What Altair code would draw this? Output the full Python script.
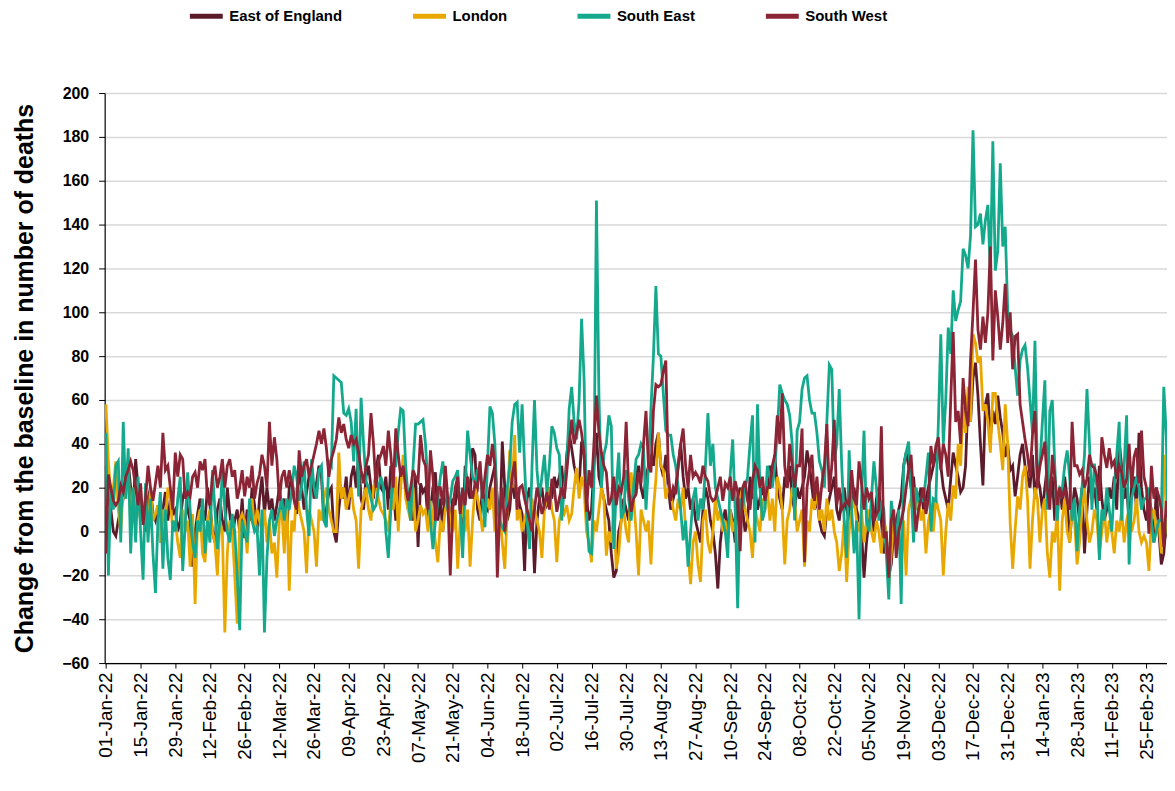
import json
import altair as alt
import pandas as pd

SERIES = ["East of England", "London", "South East", "South West"]
COLORS = ["#5c1b2a", "#e9a800", "#14a98c", "#8b2434"]

TICK_LABELS = ["01-Jan-22", "15-Jan-22", "29-Jan-22", "12-Feb-22", "26-Feb-22", "12-Mar-22",
               "26-Mar-22", "09-Apr-22", "23-Apr-22", "07-May-22", "21-May-22", "04-Jun-22",
               "18-Jun-22", "02-Jul-22", "16-Jul-22", "30-Jul-22", "13-Aug-22", "27-Aug-22",
               "10-Sep-22", "24-Sep-22", "08-Oct-22", "22-Oct-22", "05-Nov-22", "19-Nov-22",
               "03-Dec-22", "17-Dec-22", "31-Dec-22", "14-Jan-23", "28-Jan-23", "11-Feb-23",
               "25-Feb-23"]
TICK_POS = [14 * i for i in range(len(TICK_LABELS))]

# daily values, one row per fortnight starting 01-Jan-22
EAST_OF_ENGLAND = [
    30, 15, 10, 0, -2, 5, 10, 15, 25, 32, 20, 10, 33, 20,
    5, 10, 0, 15, 20, 8, 5, 12, -5, 10, 18, 5, 15, 8,
    10, 0, 5, 15, 20, 10, 5, -16, 0, 8, 15, 10, 5, 20,
    12, 0, -5, 10, 15, 5, 0, 20, 8, -2, 5, 10, 0, 15,
    -3, 10, 5, 20, 12, 0, 15, 25, 8, 20, 10, 15, 5, 12,
    20, 10, 15, 0, 20, 25, 15, 8, 30, 20, 10, 18, 25, 30,
    15, 22, 30, 25, 5, 10, 18, 20, 0, -5, 10, 20, 15, 25,
    10, 25, 30, 20, 35, 15, 10, 25, 30, 20, 15, 28, 35, 20,
    18, 25, 10, 30, 20, 5, 15, 28, 30, 25, 10, 20, 5, 25,
    -7, 22, 18, 20, 5, 10, 20, 27, 5, 15, 0, 20, 10, 5,
    15, 12, 22, 10, -2, 30, 20, 15, 38, 35, 10, 5, 20, 12,
    10, 20, 25, 30, 15, 0, 41, 20, 5, 10, 25, 15, 20, 12,
    8, -18, 15, 20, 10, -19, 5, 15, 20, 10, 12, 20, 15, 25,
    20, 25, 30, 15, 35, 45, 38, 30, 25, 20, 41, 35, 15, 5,
    10, 30, 45, 25, 20, 15, 10, 5, -10, -21, -18, 0, 5, 15,
    10, 5, 20, 15, 25, 30, 20, 15, 25, 30, 35, 30, 40, 45,
    30, 25, 35, 20, 10, 15, 20, 30, 40, 25, 15, 20, 10, 15,
    5, 0, -5, 10, 20, 15, 5, 0, -10, -26, -5, 5, 10, 0,
    10, 5, -5, 15, 20, 10, 0, 5, 25, 15, 20, 10, 15, 20,
    15, 20, 30, 25, 35, 20, 15, 10, 25, 20, 30, 15, 10, 20,
    15, 20, 25, 37, 30, 20, 10, 15, 5, 0, -2, 10, 15, 20,
    25, 10, 5, 15, 20, 10, 5, 15, 20, 10, 5, 0, -21, -5,
    5, 10, 0, 15, 20, 5, -10, -5, -20, -15, 0, 5, 10, 15,
    30, 36, 30, 20, 25, 10, 15, 20, 10, 15, 20, 25, 30, 35,
    40, 30, 20, 15, 10, 24, 36, 30, 25, 18, 20, 30, 62, 50,
    70, 77, 62, 40, 21, 58, 63, 43, 55, 49, 62, 52, 45, 34,
    40, 28, 30, 16, 25, 35, 40, 30, 25, 20, 35, 15, 25, 20,
    10, 20, 30, 15, 25, 5, 15, 20, 10, 25, 15, -5, 10, 20,
    15, 5, 20, -10, 10, 25, 15, 20, 10, 30, 15, 5, 10, 20,
    15, 25, 10, 41, 30, 15, 20, 5, 20, 25, 10, 45, 20, 10,
    5, 15, 10, -5, 20, 0, -15, -10, 5, -5,
]

LONDON = [
    58, 32, 15, 20, 32, 10, 0, 20, 15, 28, 5, 20, 10, 15,
    5, 10, 15, 0, 20, 5, 8, 12, -5, 10, 5, 20, 15, 0,
    5, -5, -12, 10, 0, 5, -16, 8, -33, 5, 10, -10, -14, 5,
    10, 0, -5, -20, 5, 0, -46, -10, 5, 0, -20, -42, 5, 8,
    5, -10, 10, 15, 0, 10, 5, 0, 10, -5, 5, -10, -5, -21,
    5, 10, -10, 15, -27, 5, 0, 20, 10, 5, 0, -19, 10, 5,
    0, -16, 10, 5, 15, 20, 10, 5, 0, 0, 36, 15, 20, 10,
    15, 20, 10, 5, -17, 10, 15, 20, 10, 5, 20, 25, 15, 10,
    8, 5, 0, 15, 10, 25, 0, 20, 35, 15, 10, 5, 20, 0,
    5, 12, 8, 10, 0, 14, 5, -5, -14, 5, 0, 10, 15, 5,
    0, 10, -17, 5, 12, 0, 10, -16, 5, 20, 15, 10, 0, 8,
    15, 10, 20, 0, 5, 10, -5, -17, 10, 37, 20, 44, 5, 10,
    0, 5, 10, -5, 15, 10, 5, 0, -12, 10, 15, 20, 10, 5,
    -14, 5, 10, 8, 12, 5, 8, 20, 29, 15, 25, 20, 0, -5,
    -14, 5, 0, 10, 20, 15, -11, 0, -5, 10, -17, -10, 5, 10,
    0, -5, 27, 15, 0, -20, 10, 5, 0, 5, -15, 10, 24, 45,
    30, 28, 15, 20, 18, 10, 5, 15, 10, 20, 0, -10, -24, -5,
    0, -15, -23, 5, 10, -5, -10, 0, 15, 5, 10, 0, 5, -5,
    10, 0, 5, -10, 15, 20, 10, 5, 0, -12, 10, 5, 0, 15,
    10, 20, 5, 15, 0, 25, 20, 10, -15, 5, 10, 20, 15, 0,
    5, 10, -16, 5, 0, 15, 10, 20, 5, 10, 0, 15, 5, 10,
    0, -5, -18, -10, 5, -23, 0, 10, 15, 5, 0, 10, -5, 5,
    10, 0, -5, 5, 0, -10, 5, 0, -25, -10, 5, -5, 0, -15,
    5, -20, 10, 15, 20, 10, 15, 5, 10, -10, 5, 10, 0, 15,
    10, 5, -20, 0, 13, 5, 21, 15, 40, 30, 57, 45, 66, 50,
    90, 86, 77, 80, 55, 58, 50, 36, 63, 63, 50, 40, 28, 58,
    40, 4, -17, 1, 16, 10, 25, 30, 15, -17, 5, 20, 15, -5,
    10, 15, -10, -21, 0, -5, 10, -27, 5, 15, 0, -5, 10, 5,
    -15, -5, 10, 20, 5, -5, 0, 10, 5, -10, 0, 10, -5, 5,
    0, -10, 5, 0, 10, -5, 5, 10, 0, 5, 15, 0, -5, -2,
    -5, -18, 5, 10, 0, 5, -10, 35, 10, -5,
]

SOUTH_EAST = [
    45, -20, 20, 10, 30, 32, -5, 50, 15, 38, -10, 20, -5, 25,
    0, -22, 22, -5, 15, -10, -28, 5, 18, -17, 10, -12, -22, 5,
    0, 15, 25, -18, 3, 27, 10, -5, -12, 5, 0, 15, -10, 5,
    -5, 28, 10, -8, 5, 28, 10, 0, -5, 8, 0, -20, -45, 5,
    0, -5, 15, 5, 0, 2, -20, 10, -46, -12, 5, 10, -2, 5,
    10, 15, 5, 15, 10, 18, 30, 25, 14, 20, 32, 10, -2, 33,
    20, 15, 28, 30, 5, 2, 32, 30, 71, 70, 69, 68, 54, 53,
    56, 50, 32, 56, 16, 61, 40, 23, 20, 15, 10, 12, 20, 25,
    20, 0, -12, 10, 30, 30, 45, 56, 55, 30, 15, 5, 30, 49,
    49, 50, 51, 40, 20, 5, -8, 5, 14, 25, 32, 20, 10, 15,
    23, 25, 28, 10, -12, 20, 46, 35, 25, 22, 28, 30, 15, 2,
    30, 57, 54, 40, 10, 5, 2, 0, 20, 30, 50, 58, 59, 36,
    58, 30, 5, -8, 30, 60, 28, 15, 25, 35, 18, 30, 48, 45,
    38, 35, 5, 20, 30, 56, 66, 50, 42, 60, 97, 70, 9, -9,
    -10, 24, 151, 62, 20, 35, 40, 53, 48, -8, 20, 36, 6, 9,
    28, 15, 5, 20, 33, 35, 40, 38, 10, 30, 56, 80, 112, 81,
    80, 63, 46, 44, 44, 35, 30, 20, 10, -4, 5, -16, 0, 15,
    20, 5, 15, 10, 30, 54, 30, 40, 20, 15, 10, 5, 0, -12,
    26, 42, 10, -35, 15, 10, 20, 25, 40, 53, -5, 58, 20, 5,
    10, 30, 25, 20, 30, 45, 67, 63, 60, 58, 53, 40, 5, 46,
    50, 65, 70, 71, 60, 54, 54, 45, 32, 28, 20, 50, 76, 74,
    32, 40, 65, 30, 5, -12, 37, 10, -10, 5, -40, 15, 46, 5,
    0, 15, 32, 20, 5, 14, 10, -10, -31, 14, 5, -5, 10, -33,
    30, 36, 41, 20, -5, 20, 14, 15, 14, 25, 36, 0, 15, 14,
    49, 90, 40, 60, 93, 81, 110, 96, 101, 105, 129, 126, 120, 135,
    183, 139, 140, 145, 131, 142, 149, 118, 178, 119, 128, 168, 130, 139,
    101, 92, 89, 75, 62, 78, 83, 85, 75, 60, 45, 87, 25, 30,
    50, 69, 10, 55, 60, 30, 5, 20, 19, 30, 37, 25, 5, 15,
    -9, 10, 20, 35, 65, 40, 10, 31, 20, -13, 10, 5, 20, 10,
    0, 20, 35, 50, 5, 30, 53, -15, 15, 20, 25, 20, 10, 15,
    15, 20, 5, -5, 0, 5, 5, 66, 44, -12,
]

SOUTH_WEST = [
    -10, 26, 20, 14, 12, 14, 21, 18, 25, 28, 32, 28, 20, 12,
    22, 3, 15, 30, 20, 14, 22, 30, 20, 45, 28, 30, 20, 10,
    36, 25, 35, 33, 15, 18, 16, 25, 27, 20, 32, 28, 33, 15,
    12, 25, 30, 20, 25, 33, 20, 30, 33, 25, 28, 15, 20, 28,
    16, 25, 20, 30, 15, 22, 26, 35, 30, 20, 50, 30, 43, 33,
    14, 25, 28, 20, 28, 22, 14, 10, 37, 25, 30, 33, 25, 30,
    35, 40, 46, 40, 47, 38, 25, 33, 37, 42, 52, 45, 49, 42,
    38, 44, 40, 42, 36, 28, 22, 30, 35, 54, 40, 20, 32, 35,
    39, 30, 46, 35, 20, 47, 35, 25, 30, 20, 14, 20, 28, 25,
    23, 44, 33, 30, 10, 37, 25, 5, 20, 20, 12, 30, 15, -20,
    10, 20, 25, 8, 20, 12, 25, 20, 15, 22, 20, 32, 15, 25,
    35, 30, 40, 30, -21, 10, 20, 0, 10, 14, 25, 32, 10, 20,
    21, 15, 10, 5, 0, 10, 20, 15, 8, 12, 18, 10, 24, 20,
    9, 15, 20, 15, 27, 40, 51, 40, 45, 51, 45, 35, 9, 28,
    20, 40, 62, 45, 36, 30, 27, 12, 15, 25, 12, 20, 18, 25,
    50, 20, 9, 15, 17, 27, 22, 40, 55, 30, 27, 55, 67, 66,
    67, 73, 78, 27, 14, 20, 17, 30, 40, 47, 30, 20, 35, 25,
    27, 25, 22, 30, 25, 23, 16, 14, 15, 20, 25, 14, 22, 20,
    25, 14, 23, 18, -9, 20, 23, 14, 10, 23, 30, 28, 20, 25,
    14, 20, 20, 30, 35, 53, 40, 63, 30, 20, 40, 30, 20, 30,
    30, 47, -14, 20, 28, 35, 14, 25, 10, 22, 30, 49, 18, 30,
    51, 12, 20, 10, 12, 14, 12, 28, 15, 12, 32, 22, 10, 20,
    15, 18, 5, 8, 10, 48, -3, 0, -21, 5, 10, -12, 0, 5,
    10, 20, 28, 35, 15, 0, 10, 15, 20, 8, 15, 39, 30, 39,
    43, 28, 40, 35, 25, 60, 91, 50, 55, 40, 70, 55, 48, 78,
    100, 124, 92, 83, 98, 86, 100, 130, 78, 110, 98, 83, 95, 113,
    86, 100, 74, 89, 90, 58, 50, 42, 35, 25, 44, 55, 20, 30,
    35, 41, 20, 10, 35, 25, 12, 20, 15, 20, 14, 10, 50, 30,
    30, 26, 28, 20, 24, 35, 30, 29, 25, 14, 43, 35, 29, 38,
    30, 32, 24, 30, 27, 20, 24, 40, 20, 34, 38, 22, 46, 25,
    20, -1, 30, 15, 20, 16, 10, -7, 14, 5,
]

VALUES = [EAST_OF_ENGLAND, LONDON, SOUTH_EAST, SOUTH_WEST]

rows = []
for name, vals in zip(SERIES, VALUES):
    for i, v in enumerate(vals):
        rows.append({"day": i, "value": v, "series": name})
df = pd.DataFrame(rows)

label_expr = json.dumps(TICK_LABELS) + "[round(datum.value / 14)]"

x = alt.X(
    "day:Q",
    scale=alt.Scale(domain=[-0.5, 428.3], nice=False, zero=False),
    axis=alt.Axis(values=TICK_POS, labelExpr=label_expr, labelAngle=270, grid=False,
                  labelFont="Liberation Sans", labelFontSize=19, labelColor="#000000",
                  labelPadding=4, tickSize=5, labelOverlap=False, labelBound=False,
                  labelFlush=False),
    title=None,
)
y = alt.Y(
    "value:Q",
    scale=alt.Scale(domain=[-60, 200], nice=False, zero=False),
    axis=alt.Axis(values=list(range(-60, 201, 20)), grid=True, gridColor="#d9d9d9",
                  gridWidth=1.5, labelFont="Liberation Sans", labelFontSize=16,
                  labelFontWeight="bold", labelColor="#000000", labelPadding=10,
                  tickSize=6, titleFont="Liberation Sans", titleFontSize=25,
                  titleFontWeight="bold", titleColor="#000000", titlePadding=24),
    title="Change from the baseline in number of deaths",
)
color = alt.Color(
    "series:N",
    scale=alt.Scale(domain=SERIES, range=COLORS),
    legend=alt.Legend(orient="none", legendX=83, legendY=-96, direction="horizontal",
                      columns=4, symbolType="stroke", symbolSize=1089,
                      symbolStrokeWidth=5, labelFont="Liberation Sans",
                      labelFontSize=15, labelFontWeight="bold", labelColor="#000000",
                      labelOffset=4, columnPadding=60, padding=0, title=None),
)

layers = []
for name in SERIES:
    layers.append(
        alt.Chart(df)
        .transform_filter(alt.datum.series == name)
        .mark_line(strokeWidth=2.8, clip=True)
        .encode(x=x, y=y, color=color)
    )

chart = (
    alt.layer(*layers)
    .properties(width=1066, height=572,
                padding={"left": 97, "top": 84, "right": 0, "bottom": 116},
                autosize=alt.AutoSizeParams(type="none"))
    .configure_view(strokeWidth=0)
    .configure_axis(domainColor="#000000", tickColor="#000000", domainWidth=1.2)
)

chart.save("out.html", embed_options={"renderer": "svg", "actions": False})
